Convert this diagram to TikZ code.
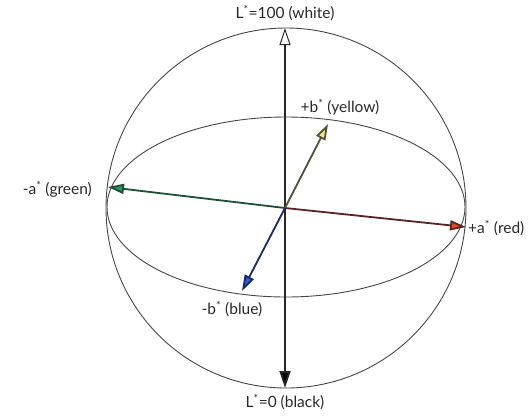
\documentclass[tikz,border=0pt]{standalone}
\usepackage{fontspec}
\setmainfont{Lato}
\usepackage{tikz}
\usetikzlibrary{arrows.meta, positioning}
\definecolor{axisdark}{RGB}{40,40,40}
\definecolor{rimgray}{RGB}{70,70,70}
\definecolor{greenhead}{RGB}{40,150,90}
\definecolor{greenline}{RGB}{30,80,55}
\definecolor{redhead}{RGB}{235,70,40}
\definecolor{redline}{RGB}{90,35,35}
\definecolor{yellowhead}{RGB}{240,240,120}
\definecolor{yellowline}{RGB}{80,80,60}
\definecolor{bluehead}{RGB}{40,90,230}
\definecolor{blueline}{RGB}{30,40,100}
\tikzset{
  rim/.style={rimgray, line width=0.9pt},
  lbl/.style={font=\fontsize{15.5}{18}\selectfont, text=axisdark, inner sep=1pt},
  lightness/.style={axisdark, line width=1.8pt,
    {Triangle[length=17pt, width=11pt, fill=black]}-{Triangle[length=17pt, width=11pt, fill=white, line width=1pt]}},
  greenarrow/.style={greenline, line width=1.8pt, -{Triangle[length=16pt, width=10pt, fill=greenhead]}},
  redarrow/.style={redline, line width=1.8pt, -{Triangle[length=16pt, width=10pt, fill=redhead]}},
  yellowarrow/.style={yellowline, line width=1.8pt, -{Triangle[length=16pt, width=10pt, fill=yellowhead]}},
  bluearrow/.style={blueline, line width=1.8pt, -{Triangle[length=16pt, width=10pt, fill=bluehead]}}
}
\begin{document}
\begin{tikzpicture}[x=1pt, y=-1pt]
  \useasboundingbox (0,0) rectangle (532,418);

  % Sphere and equator
  \draw[rim] (286,208) circle (180);
  \draw[rim] (286,207) ellipse (179 and 90);

  % Axis end points
  \coordinate (o) at (285,208);
  \coordinate (white) at (285,28);
  \coordinate (black) at (285,388);
  \coordinate (green) at (108,187);
  \coordinate (red) at (466,227);
  \coordinate (yellow) at (328,124);
  \coordinate (blue) at (242,291);

  % Axes
  \draw[lightness] (black) -- (white);
  \draw[greenarrow] (o) -- (green);
  \draw[redarrow] (o) -- (red);
  \draw[yellowarrow] (o) -- (yellow);
  \draw[bluearrow] (o) -- (blue);

  % Labels
  \node[lbl] (lwhite) at (285,13) {L\textsuperscript{*}=100 (white)};
  \node[lbl] (lblack) at (285,402) {L\textsuperscript{*}=0 (black)};
  \node[lbl, anchor=west] (lred) at (467,228) {+a\textsuperscript{*} (red)};
  \node[lbl, anchor=east] (lgreen) at (93,189) {-a\textsuperscript{*} (green)};
  \node[lbl] (lyellow) at (340,107) {+b\textsuperscript{*} (yellow)};
  \node[lbl] (lblue) at (232,309) {-b\textsuperscript{*} (blue)};
\end{tikzpicture}
\end{document}
